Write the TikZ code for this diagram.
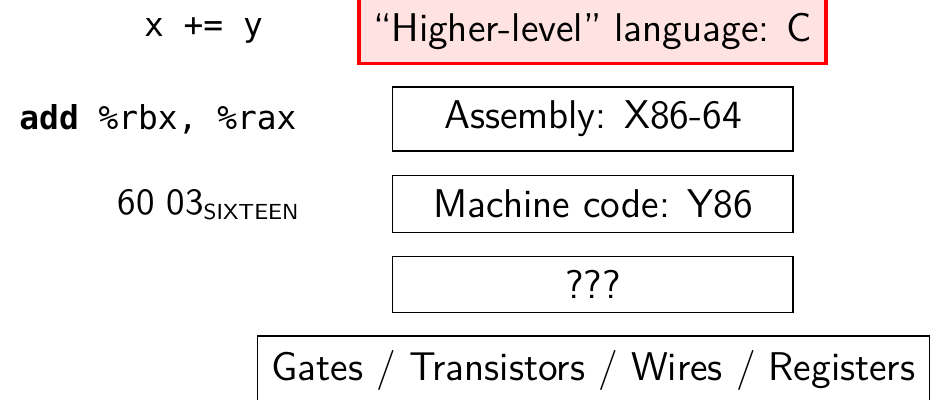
\documentclass[tikz,border=0pt]{standalone}
\usepackage{fontspec}
\setmonofont{DejaVu Sans Mono}[Scale=0.82]
\renewcommand{\familydefault}{\sfdefault}

\begin{document}
\begin{tikzpicture}[x=0.01cm,y=-0.01cm,
    font=\sffamily\fontsize{11.4}{13}\selectfont,
    level/.style={draw, line width=0.35pt, minimum width=4cm, inner sep=0.4em},
    hilite/.style={draw=red, line width=1pt, fill=red!11, inner sep=0.4em},
    code/.style={font=\ttfamily\fontsize{11.4}{13}\selectfont}]

\useasboundingbox (0,0) rectangle (944,399);

% the levels, top to bottom
\node[hilite] (lang) at (592.5,31) {``Higher-level'' language: C};
\node[level] (asm) at (593,119) {Assembly: X86-64};
\node[level] (mach) at (593,204) {Machine code: Y86};
\node[level] (unknown) at (593,284.5) {???};
\node[draw, line width=0.35pt, inner sep=0.4em] (hw) at (593.5,370) {Gates / Transistors / Wires / Registers};

% examples on the left
\node[code] (csrc) at (203.5,31) {x += y};
\node[code] (asmsrc) at (158,119) {\textbf{add} \%rbx, \%rax};
\node[font=\sffamily\fontsize{10.5}{12}\selectfont] (bytes) at (208,205)
  {60 03\raisebox{-0.3ex}{\fontsize{6.2}{7}\selectfont SIXTEEN}};

\end{tikzpicture}
\end{document}
